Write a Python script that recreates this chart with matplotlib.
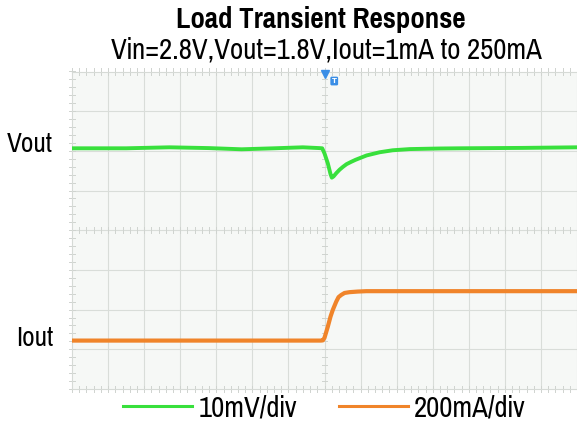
import numpy as np
import matplotlib
matplotlib.use("Agg")
import matplotlib.pyplot as plt
from matplotlib.lines import Line2D

plt.rcParams['font.family'] = ['Pragati Narrow', 'DejaVu Sans']

# horizontal axis in scope divisions, trigger at 0
vout_t = [-7.0, -5.5, -4.3, -3.2, -2.3, -1.4, -0.6, -0.14, -0.064, 0.0, 0.092, 0.167,
          0.203, 0.25, 0.333, 0.417, 0.508, 0.611, 0.742, 0.861, 0.972, 1.167, 1.528,
          1.889, 2.361, 3.194, 3.75, 5.5, 7.0]
vout_mv = [0.0, 0.0, 0.25, 0.05, -0.25, 0.0, 0.25, 0.05, 0.0, -1.3, -3.8, -6.5,
           -7.4, -7.1, -6.2, -5.4, -4.7, -4.0, -3.4, -2.9, -2.5, -1.8, -1.0,
           -0.5, -0.2, -0.05, 0.0, 0.1, 0.25]

iout_t = [-7.0, -3.0, -0.1, -0.047, 0.0, 0.092, 0.167, 0.231, 0.325, 0.389, 0.464,
          0.556, 0.694, 0.917, 1.16, 3.0, 7.0]
iout_ma = [1, 1, 1, 2, 15, 71, 122, 156, 197, 220, 231, 241, 245, 248, 250, 250, 250]

vout_scale = 10.0    # mV/div
iout_scale = 200.0   # mA/div
vout_pos = 2.065     # trace offset, div
iout_pos = -2.78

green = '#38e03c'
orange = '#f0842a'

fig = plt.figure(figsize=(5.77, 4.25), dpi=100)
ax = fig.add_axes([72 / 577, 36 / 425, 505 / 577, 317.5 / 425])
ax.set_facecolor('#f6f8f6')
ax.set_xlim(-7, 7)
ax.set_ylim(-4, 4)
ax.set_xticks([])
ax.set_yticks([])
for s in ax.spines.values():
    s.set_color('#d6dad6')
    s.set_linewidth(0.8)

# graticule
gc = '#d9ddd9'
for x in range(-6, 7):
    ax.axvline(x, color=gc, lw=0.8, zorder=1)
for y in range(-3, 4):
    ax.axhline(y, color=gc, lw=0.8, zorder=1)
minor = np.arange(-7, 7.01, 0.2)
for x in minor:
    for y0 in (-4, 0, 4):
        ax.plot([x, x], [y0 - 0.08, y0 + 0.08], color='#cfd3cf', lw=0.7, zorder=1, clip_on=False)
minor_y = np.arange(-4, 4.01, 0.2)
for y in minor_y:
    for x0 in (-7, 0):
        ax.plot([x0 - 0.07, x0 + 0.07], [y, y], color='#cfd3cf', lw=0.7, zorder=1, clip_on=False)

vy = vout_pos + np.array(vout_mv) / vout_scale
iy = iout_pos + (np.array(iout_ma) - 1) / iout_scale
ax.plot(vout_t, vy, color=green, lw=2.8, zorder=3, solid_joinstyle='round')
ax.plot(iout_t, iy, color=orange, lw=3.0, zorder=3, solid_joinstyle='round')

# trigger markers
ax.plot([0], [3.93], marker='v', color='#3a8ee6', ms=6, clip_on=False, zorder=4)
ax.text(0.27, 3.76, 'T', fontsize=5, color='white', ha='center', va='center',
        family='DejaVu Sans', fontweight='bold', zorder=4,
        bbox=dict(boxstyle='round,pad=0.2', fc='#3a8ee6', ec='none'))

fig.text(0.556, 0.955, 'Load Transient Response', ha='center', va='center',
         fontsize=22.6, fontweight='bold')
fig.text(0.565, 0.882, 'Vin=2.8V,Vout=1.8V,Iout=1mA to 250mA', ha='center',
         va='center', fontsize=22.6)
fig.text(0.092, 0.66, 'Vout', ha='right', va='center', fontsize=21.3)
fig.text(0.092, 0.203, 'Iout', ha='right', va='center', fontsize=21.3)

handles = [Line2D([], [], color=green, lw=2.2), Line2D([], [], color=orange, lw=2.2)]
fig.legend(handles, ['10mV/div', '200mA/div'], loc='center', ncol=2,
           bbox_to_anchor=(0.562, 0.04), frameon=False, fontsize=22.6,
           handlelength=2.2, handletextpad=0.19, columnspacing=1.34, borderpad=0)

fig.savefig('out.png', dpi=100)
